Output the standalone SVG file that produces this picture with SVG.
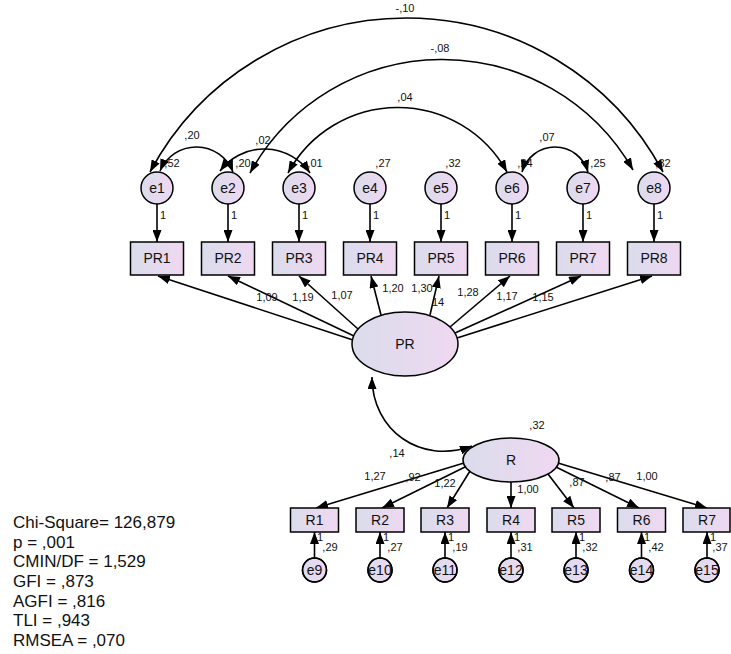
<svg xmlns="http://www.w3.org/2000/svg" width="731" height="654" viewBox="0 0 731 654">
<style>
.bg{fill:#ffffff}
.shape{fill:url(#g);stroke:#000;stroke-width:1.5}
.ring{fill:none;stroke:#000;stroke-width:1.5}
.ln{fill:none;stroke:#000;stroke-width:1.6}
.arr{marker-end:url(#ah)}
.cov{marker-start:url(#ah);marker-end:url(#ah)}
.nt{font-family:"Liberation Sans",Arial,sans-serif;font-size:14px;fill:#111;text-anchor:middle}
.lb{font-family:"Liberation Sans",Arial,sans-serif;font-size:11px;fill:#111;text-anchor:middle}
.st{font-family:"Liberation Sans",Arial,sans-serif;font-size:17px;fill:#111}
</style>
<defs>
<linearGradient id="g" x1="0" y1="0" x2="1" y2="0">
<stop offset="0" stop-color="#dadcec"/>
<stop offset="1" stop-color="#efd8f1"/>
</linearGradient>
<marker id="ah" viewBox="0 0 12 9" refX="12" refY="4.5" markerWidth="12" markerHeight="9" markerUnits="userSpaceOnUse" orient="auto-start-reverse">
<path d="M0,0 L12,4.5 L0,9 z" fill="#000"/>
</marker>
</defs>
<rect class="bg" x="0" y="0" width="731" height="654"/>

<g id="connectors">
<path class="ln cov" d="M150,172 A290.6,290.6 0 0 1 663,172"/>
<path class="ln cov" d="M250,173 A219.7,219.7 0 0 1 633,170"/>
<path class="ln cov" d="M288,173 A124.7,124.7 0 0 1 507,172"/>
<path class="ln cov" d="M160,171 A39.4,39.4 0 0 1 233,172"/>
<path class="ln cov" d="M220,171 A55.5,55.5 0 0 1 310,173"/>
<path class="ln cov" d="M522,172 A34.3,34.3 0 0 1 588,172"/>
<line class="ln arr" x1="157" y1="204" x2="157" y2="242"/>
<line class="ln arr" x1="228" y1="204" x2="228" y2="242"/>
<line class="ln arr" x1="299" y1="204" x2="299" y2="242"/>
<line class="ln arr" x1="370" y1="204" x2="370" y2="242"/>
<line class="ln arr" x1="441" y1="204" x2="441" y2="242"/>
<line class="ln arr" x1="512" y1="204" x2="512" y2="242"/>
<line class="ln arr" x1="583" y1="204" x2="583" y2="242"/>
<line class="ln arr" x1="654" y1="204" x2="654" y2="242"/>
<line class="ln arr" x1="353" y1="340" x2="158" y2="276"/>
<line class="ln arr" x1="354" y1="336" x2="228" y2="276"/>
<line class="ln arr" x1="358" y1="329" x2="299" y2="276"/>
<line class="ln arr" x1="381" y1="315" x2="371" y2="276"/>
<line class="ln arr" x1="430" y1="315" x2="439" y2="276"/>
<line class="ln arr" x1="450" y1="327" x2="510" y2="276"/>
<line class="ln arr" x1="455" y1="333" x2="581" y2="276"/>
<line class="ln arr" x1="457" y1="338" x2="652" y2="276"/>
<path class="ln cov" d="M372,377 C372,430 420,465 472,446"/>
<line class="ln arr" x1="464" y1="463" x2="316" y2="508"/>
<line class="ln arr" x1="465" y1="467" x2="382" y2="508"/>
<line class="ln arr" x1="470" y1="471" x2="447" y2="508"/>
<line class="ln arr" x1="511" y1="482" x2="511" y2="508"/>
<line class="ln arr" x1="548" y1="474" x2="574" y2="508"/>
<line class="ln arr" x1="556" y1="467" x2="639" y2="508"/>
<line class="ln arr" x1="558" y1="463" x2="707" y2="508"/>
<line class="ln arr" x1="314.5" y1="558" x2="314.5" y2="532"/>
<line class="ln arr" x1="380" y1="558" x2="380" y2="532"/>
<line class="ln arr" x1="445" y1="558" x2="445" y2="532"/>
<line class="ln arr" x1="511" y1="558" x2="511" y2="532"/>
<line class="ln arr" x1="576" y1="558" x2="576" y2="532"/>
<line class="ln arr" x1="641.5" y1="558" x2="641.5" y2="532"/>
<line class="ln arr" x1="707" y1="558" x2="707" y2="532"/>
</g>

<g id="labels">
<text class="lb" x="405" y="12">-,10</text>
<text class="lb" x="440" y="52">-,08</text>
<text class="lb" x="405" y="101">,04</text>
<text class="lb" x="192" y="139">,20</text>
<text class="lb" x="263" y="144">,02</text>
<text class="lb" x="547" y="141">,07</text>
<text class="lb" x="172" y="167">,52</text>
<text class="lb" x="243" y="167">,20</text>
<text class="lb" x="315" y="167">,01</text>
<text class="lb" x="383" y="167">,27</text>
<text class="lb" x="453" y="167">,32</text>
<text class="lb" x="525" y="167">,24</text>
<text class="lb" x="598" y="167">,25</text>
<text class="lb" x="663" y="167">,32</text>
<text class="lb" x="163" y="219">1</text>
<text class="lb" x="234" y="219">1</text>
<text class="lb" x="305" y="219">1</text>
<text class="lb" x="376" y="219">1</text>
<text class="lb" x="447" y="219">1</text>
<text class="lb" x="518" y="219">1</text>
<text class="lb" x="589" y="219">1</text>
<text class="lb" x="660" y="219">1</text>
<text class="lb" x="267" y="301">1,09</text>
<text class="lb" x="303" y="301">1,19</text>
<text class="lb" x="342" y="299">1,07</text>
<text class="lb" x="393" y="292">1,20</text>
<text class="lb" x="422" y="292">1,30</text>
<text class="lb" x="438" y="306">14</text>
<text class="lb" x="468" y="296">1,28</text>
<text class="lb" x="507" y="300">1,17</text>
<text class="lb" x="543" y="301">1,15</text>
<text class="lb" x="397" y="457">,14</text>
<text class="lb" x="537" y="429">,32</text>
<text class="lb" x="375" y="480">1,27</text>
<text class="lb" x="413" y="481">,92</text>
<text class="lb" x="445" y="487">1,22</text>
<text class="lb" x="528" y="493">1,00</text>
<text class="lb" x="577" y="486">,87</text>
<text class="lb" x="613" y="481">,87</text>
<text class="lb" x="647" y="480">1,00</text>
<text class="lb" x="320" y="541">1</text>
<text class="lb" x="330" y="551">,29</text>
<text class="lb" x="386" y="541">1</text>
<text class="lb" x="395" y="551">,27</text>
<text class="lb" x="451" y="541">1</text>
<text class="lb" x="460" y="551">,19</text>
<text class="lb" x="517" y="541">1</text>
<text class="lb" x="525" y="551">,31</text>
<text class="lb" x="582" y="541">1</text>
<text class="lb" x="590" y="551">,32</text>
<text class="lb" x="647" y="541">1</text>
<text class="lb" x="656" y="551">,42</text>
<text class="lb" x="713" y="541">1</text>
<text class="lb" x="720" y="551">,37</text>
</g>

<g id="e1"><circle class="shape" cx="157" cy="188" r="16"/><text class="nt" x="157" y="193">e1</text></g>
<g id="e2"><circle class="shape" cx="228" cy="188" r="16"/><text class="nt" x="228" y="193">e2</text></g>
<g id="e3"><circle class="shape" cx="299" cy="188" r="16"/><text class="nt" x="299" y="193">e3</text></g>
<g id="e4"><circle class="shape" cx="370" cy="188" r="16"/><text class="nt" x="370" y="193">e4</text></g>
<g id="e5"><circle class="shape" cx="441" cy="188" r="16"/><text class="nt" x="441" y="193">e5</text></g>
<g id="e6"><circle class="shape" cx="512" cy="188" r="16"/><text class="nt" x="512" y="193">e6</text></g>
<g id="e7"><circle class="shape" cx="583" cy="188" r="16"/><text class="nt" x="583" y="193">e7</text></g>
<g id="e8"><circle class="shape" cx="654" cy="188" r="16"/><text class="nt" x="654" y="193">e8</text></g>

<g id="PR1"><rect class="shape" x="130.5" y="242" width="53" height="33"/><text class="nt" x="157" y="263">PR1</text></g>
<g id="PR2"><rect class="shape" x="201.5" y="242" width="53" height="33"/><text class="nt" x="228" y="263">PR2</text></g>
<g id="PR3"><rect class="shape" x="272.5" y="242" width="53" height="33"/><text class="nt" x="299" y="263">PR3</text></g>
<g id="PR4"><rect class="shape" x="343.5" y="242" width="53" height="33"/><text class="nt" x="370" y="263">PR4</text></g>
<g id="PR5"><rect class="shape" x="414.5" y="242" width="53" height="33"/><text class="nt" x="441" y="263">PR5</text></g>
<g id="PR6"><rect class="shape" x="485.5" y="242" width="53" height="33"/><text class="nt" x="512" y="263">PR6</text></g>
<g id="PR7"><rect class="shape" x="556.5" y="242" width="53" height="33"/><text class="nt" x="583" y="263">PR7</text></g>
<g id="PR8"><rect class="shape" x="627.5" y="242" width="53" height="33"/><text class="nt" x="654" y="263">PR8</text></g>

<g id="PR"><ellipse class="shape" cx="405" cy="344" rx="53" ry="32"/><text class="nt" x="405" y="349">PR</text></g>
<g id="R"><ellipse class="shape" cx="511" cy="460" rx="48" ry="22"/><text class="nt" x="511" y="465">R</text></g>

<g id="R1"><rect class="shape" x="290.5" y="508" width="48" height="24"/><text class="nt" x="314.5" y="525">R1</text></g>
<g id="R2"><rect class="shape" x="356" y="508" width="48" height="24"/><text class="nt" x="380" y="525">R2</text></g>
<g id="R3"><rect class="shape" x="421" y="508" width="48" height="24"/><text class="nt" x="445" y="525">R3</text></g>
<g id="R4"><rect class="shape" x="487" y="508" width="48" height="24"/><text class="nt" x="511" y="525">R4</text></g>
<g id="R5"><rect class="shape" x="552" y="508" width="48" height="24"/><text class="nt" x="576" y="525">R5</text></g>
<g id="R6"><rect class="shape" x="617.5" y="508" width="48" height="24"/><text class="nt" x="641.5" y="525">R6</text></g>
<g id="R7"><rect class="shape" x="683" y="508" width="47" height="24"/><text class="nt" x="707" y="525">R7</text></g>

<g id="e9"><circle class="shape" cx="314.5" cy="570" r="12"/><text class="nt" x="314.5" y="575">e9</text><circle class="ring" cx="314.5" cy="570" r="12"/></g>
<g id="e10"><circle class="shape" cx="380" cy="570" r="12"/><text class="nt" x="380" y="575">e10</text><circle class="ring" cx="380" cy="570" r="12"/></g>
<g id="e11"><circle class="shape" cx="445" cy="570" r="12"/><text class="nt" x="445" y="575">e11</text><circle class="ring" cx="445" cy="570" r="12"/></g>
<g id="e12"><circle class="shape" cx="511" cy="570" r="12"/><text class="nt" x="511" y="575">e12</text><circle class="ring" cx="511" cy="570" r="12"/></g>
<g id="e13"><circle class="shape" cx="576" cy="570" r="12"/><text class="nt" x="576" y="575">e13</text><circle class="ring" cx="576" cy="570" r="12"/></g>
<g id="e14"><circle class="shape" cx="641.5" cy="570" r="12"/><text class="nt" x="641.5" y="575">e14</text><circle class="ring" cx="641.5" cy="570" r="12"/></g>
<g id="e15"><circle class="shape" cx="707" cy="570" r="12"/><text class="nt" x="707" y="575">e15</text><circle class="ring" cx="707" cy="570" r="12"/></g>

<g id="stats">
<text class="st" x="13" y="528">Chi-Square= 126,879</text>
<text class="st" x="13" y="548">p = ,001</text>
<text class="st" x="13" y="567">CMIN/DF = 1,529</text>
<text class="st" x="13" y="587">GFI = ,873</text>
<text class="st" x="13" y="607">AGFI = ,816</text>
<text class="st" x="13" y="626">TLI = ,943</text>
<text class="st" x="13" y="646">RMSEA = ,070</text>
</g>
</svg>
